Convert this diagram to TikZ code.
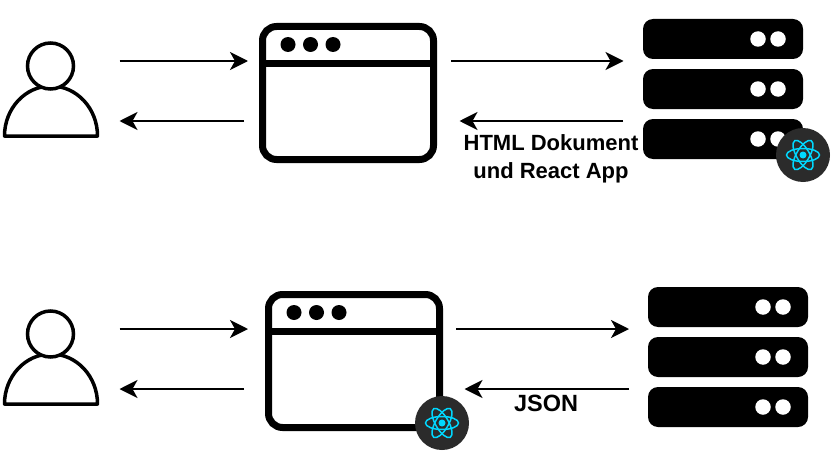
\documentclass[tikz,border=0pt]{standalone}
\usepackage{fontspec}
\setmainfont{Liberation Sans}
\usetikzlibrary{arrows.meta, positioning}
\definecolor{badgegray}{HTML}{2B2B2B}
\definecolor{reactcyan}{HTML}{00D8FF}

\begin{document}
\begin{tikzpicture}[x=1pt, y=-1pt]
\tikzstyle{outline} = [draw=black, line width=3.5pt]
\tikzstyle{head} = [circle, outline, fill=white, minimum size=46pt, inner sep=0pt, outer sep=0pt]
\tikzstyle{window} = [rectangle, draw=black, line width=7pt, rounded corners=14pt, minimum width=171pt, minimum height=133pt, inner sep=0pt, outer sep=0pt]
\tikzstyle{rack} = [rectangle, fill=black, rounded corners=10pt, minimum width=160pt, minimum height=40pt, inner sep=0pt, outer sep=0pt]
\tikzstyle{blackdot} = [circle, fill=black, minimum size=15pt, inner sep=0pt]
\tikzstyle{whitedot} = [circle, fill=white, minimum size=15.5pt, inner sep=0pt]
\tikzstyle{badge} = [circle, fill=badgegray, minimum size=54pt, inner sep=0pt, outer sep=0pt]
\tikzstyle{orbit} = [draw=reactcyan, line width=1.5pt]
\tikzstyle{flow} = [draw=black, line width=2pt, -{Stealth[length=18pt, width=18pt, inset=5pt]}]
\tikzstyle{caption} = [font=\bfseries\fontsize{22}{28}\selectfont, align=center, inner sep=0pt]

\useasboundingbox (0,0) rectangle (840,460);

% Users
\foreach \row/\dy in {a/0, b/268} {
  \draw[outline, line join=round] (4.5,136+\dy) arc[start angle=180, end angle=360, x radius=46.5, y radius=50] -- cycle;
  \node (head\row) [head] at (50.5,66+\dy) {};
}

% Browsers
\foreach \row/\dx/\dy in {a/0/0, b/6/268} {
  \node (browser\row) [window] at (348+\dx,93+\dy) {};
  \node (bar\row) [rectangle, fill=black, minimum width=171pt, minimum height=7pt, inner sep=0pt, below=33pt of browser\row.north] {};
  \foreach \n/\x in {1/288, 2/310.5, 3/333} {
    \node (dot\row\n) [blackdot] at (\x+\dx,44.5+\dy) {};
  }
}

% Servers
\foreach \row/\dx/\dy in {a/0/0, b/5/268} {
  \foreach \n/\y in {1/39, 2/89, 3/139} {
    \node (rack\row\n) [rack] at (723+\dx,\y+\dy) {};
    \node (led\row\n) [whitedot] at (758+\dx,\y+\dy) {};
    \node (ledb\row\n) [whitedot] at (778+\dx,\y+\dy) {};
  }
}

% React badges
\foreach \row/\x/\y in {a/803/155, b/442/423} {
  \node (badge\row) [badge] at (\x,\y) {};
  \foreach \a in {0,60,120} {
    \draw[orbit, rotate around={\a:(badge\row.center)}] (badge\row.center) ellipse (16.5 and 6.5);
  }
  \node (core\row) [circle, fill=reactcyan, minimum size=7pt, inner sep=0pt] at (badge\row.center) {};
}

% Top row
\draw[flow] ([shift={(46,-5)}]heada.east) -- ([shift={(-14.5,-32)}]browsera.west);
\draw[flow] ([shift={(-18.5,28)}]browsera.west) -- ([shift={(46,55)}]heada.east);
\draw[flow] ([shift={(17.5,-32)}]browsera.east) -- ([shift={(-19.5,22)}]racka1.west);
\draw[flow] ([shift={(-20,-18)}]racka3.west) -- ([shift={(26,28)}]browsera.east);

% Bottom row
\draw[flow] ([shift={(46,-5)}]headb.east) -- ([shift={(-20.5,-32)}]browserb.west);
\draw[flow] ([shift={(-24.5,28)}]browserb.west) -- ([shift={(46,55)}]headb.east);
\draw[flow] ([shift={(16.5,-32)}]browserb.east) -- ([shift={(-19,22)}]rackb1.west);
\draw[flow] ([shift={(-19,-18)}]rackb3.west) -- ([shift={(25,28)}]browserb.east);

\node (htmllabel) [caption] at (551,158.5) {HTML Dokument\\und React App};
\node (jsonlabel) [caption, font=\bfseries\fontsize{23.5}{28}\selectfont] at (546,403) {JSON};
\end{tikzpicture}
\end{document}
